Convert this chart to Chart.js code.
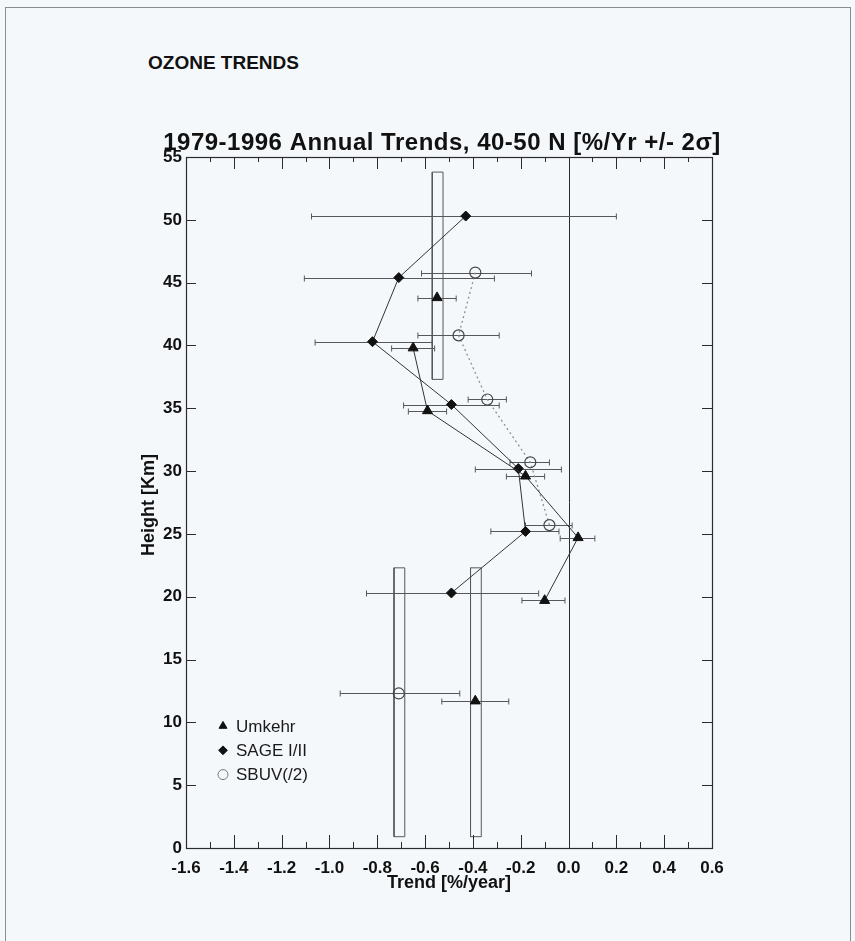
<!DOCTYPE html>
<html>
<head>
<meta charset="utf-8">
<title>Ozone Trends</title>
<script src="https://cdn.jsdelivr.net/npm/chart.js@4.4.0/dist/chart.umd.min.js"></script>
<style>
  html, body { margin: 0; padding: 0; background: #f5f8fb; }
  body { width: 855px; height: 941px; position: relative; overflow: hidden;
         font-family: "Liberation Sans", Arial, sans-serif; }
  #frame { position: absolute; left: 5px; top: 7px; width: 844px; height: 960px;
           border: 1px solid #8a8d92; }
  #heading { position: absolute; left: 148px; top: 52px; font-weight: bold;
             font-size: 19px; color: #111; }
  #wrap { position: absolute; left: 0; top: 0; width: 855px; height: 941px; }
</style>
</head>
<body>
<div id="frame"></div>
<div id="heading">OZONE TRENDS</div>
<div id="wrap"><canvas id="ozoneChart"></canvas></div>
<script>
// =============== Ozone trend profile, 40-50 N ===============

// ----------- DATA (top to bottom) -----------
const umkehrHeight = [43.8, 39.8, 34.8, 29.6, 24.7, 19.7, 11.7];
const umkehrTrend  = [-0.55, -0.65, -0.59, -0.18, 0.04, -0.10, -0.39];
const umkehrLow    = [-0.63, -0.74, -0.67, -0.26, -0.035, -0.195, -0.53];
const umkehrHigh   = [-0.47, -0.56, -0.51, -0.10, 0.11, -0.015, -0.25];
const umkehrBreaks = [0, 5];          // no line from point i to i+1

const sageHeight = [50.3, 45.4, 40.3, 35.3, 30.2, 25.2, 20.3];
const sageTrend  = [-0.43, -0.71, -0.82, -0.49, -0.21, -0.18, -0.49];
const sageLow    = [-1.075, -1.105, -1.06, -0.69, -0.39, -0.325, -0.845];
const sageHigh   = [0.20, -0.31, -0.57, -0.29, -0.03, -0.04, -0.125];
const sageBreaks = [];

const sbuvHeight = [45.8, 40.8, 35.7, 30.7, 25.7, 12.3];
const sbuvTrend  = [-0.39, -0.46, -0.34, -0.16, -0.08, -0.71];
const sbuvLow    = [-0.615, -0.63, -0.42, -0.245, -0.18, -0.955];
const sbuvHigh   = [-0.155, -0.29, -0.26, -0.08, 0.015, -0.455];
const sbuvBreaks = [4];

// open boxes
const boxLeft   = [-0.57, -0.73, -0.41];
const boxRight  = [-0.525, -0.685, -0.365];
const boxBottom = [37.3, 0.9, 0.9];
const boxTop    = [53.8, 22.3, 22.3];

const xTicks = [-1.6, -1.4, -1.2, -1.0, -0.8, -0.6, -0.4, -0.2, 0.0, 0.2, 0.4, 0.6];
const yTicks = [0, 5, 10, 15, 20, 25, 30, 35, 40, 45, 50, 55];

const INK = '#2b2b2e';
const BAR = '#55575c';
const FONT = '"Liberation Sans", Arial, sans-serif';

// ----------- DATASET HELPERS -----------
function seriesSet(label, xs, ys, breaks, style) {
  return {
    label,
    data: ys.map((h, i) => ({ x: xs[i], y: h })),
    showLine: true,
    borderColor: style.line,
    borderWidth: style.width || 1,
    borderDash: style.dash || [],
    segment: {
      borderColor: c => breaks.includes(c.p0DataIndex) ? 'rgba(0,0,0,0)' : style.line
    },
    pointStyle: style.point,
    pointRadius: style.radius,
    pointBackgroundColor: style.fill,
    pointBorderColor: style.stroke,
    pointBorderWidth: style.pointWidth || 1,
    order: style.order
  };
}

const boxSets = boxLeft.map((l, i) => ({
  label: 'box' + i,
  data: [
    { x: l, y: boxBottom[i] }, { x: boxRight[i], y: boxBottom[i] },
    { x: boxRight[i], y: boxTop[i] }, { x: l, y: boxTop[i] }, { x: l, y: boxBottom[i] }
  ],
  showLine: true,
  pointRadius: 0,
  borderColor: BAR,
  borderWidth: 1,
  order: 10
}));

const errorSets = [
  { y: umkehrHeight, lo: umkehrLow, hi: umkehrHigh },
  { y: sageHeight, lo: sageLow, hi: sageHigh },
  { y: sbuvHeight, lo: sbuvLow, hi: sbuvHigh }
];

// ----------- DRAWING PLUGIN -----------
function seg(ctx, x1, y1, x2, y2) {
  ctx.beginPath();
  ctx.moveTo(x1, y1);
  ctx.lineTo(x2, y2);
  ctx.stroke();
}

const profileExtras = {
  id: 'profileExtras',
  beforeDatasetsDraw(chart) {
    const { ctx, chartArea: a, scales: { x, y } } = chart;
    ctx.save();
    ctx.lineWidth = 1;
    ctx.strokeStyle = INK;
    const x0 = Math.round(x.getPixelForValue(0)) + 0.5;
    seg(ctx, x0, a.top, x0, a.bottom);

    ctx.strokeStyle = BAR;
    errorSets.forEach(s => {
      s.y.forEach((h, i) => {
        const yp = Math.round(y.getPixelForValue(h)) + 0.5;
        const x1 = x.getPixelForValue(s.lo[i]);
        const x2 = x.getPixelForValue(s.hi[i]);
        seg(ctx, x1, yp, x2, yp);
        seg(ctx, x1, yp - 3, x1, yp + 3);
        seg(ctx, x2, yp - 3, x2, yp + 3);
      });
    });
    ctx.restore();
  },
  afterDraw(chart) {
    const { ctx, chartArea: a, scales: { x, y } } = chart;
    ctx.save();
    ctx.strokeStyle = INK;
    ctx.lineWidth = 1.2;
    ctx.strokeRect(a.left + 0.5, a.top + 0.5, a.right - a.left, a.bottom - a.top);

    // inward ticks, minor every 0.1
    ctx.lineWidth = 1;
    for (let k = -15; k <= 5; k++) {
      const major = k % 2 === 0;
      const px = Math.round(x.getPixelForValue(k / 10)) + 0.5;
      seg(ctx, px, a.bottom, px, a.bottom - (major ? 13 : 6));
      seg(ctx, px, a.top, px, a.top + (major ? 12 : 5));
    }
    yTicks.slice(1, -1).forEach(v => {
      const py = Math.round(y.getPixelForValue(v)) + 0.5;
      seg(ctx, a.left, py, a.left + 10, py);
      seg(ctx, a.right, py, a.right - 10, py);
    });

    // titles
    ctx.fillStyle = '#111';
    ctx.textAlign = 'center';
    ctx.textBaseline = 'middle';
    ctx.font = 'bold 24px ' + FONT;
    if ('letterSpacing' in ctx) ctx.letterSpacing = '0.5px';
    ctx.fillText('1979-1996 Annual Trends, 40-50 N [%/Yr +/- 2\u03C3]', 442, 143);
    if ('letterSpacing' in ctx) ctx.letterSpacing = '0px';
    ctx.font = 'bold 18px ' + FONT;
    ctx.fillText('Trend [%/year]', (a.left + a.right) / 2, 883);
    ctx.save();
    ctx.translate(149, 505);
    ctx.rotate(-Math.PI / 2);
    ctx.fillText('Height [Km]', 0, 0);
    ctx.restore();

    // legend
    const items = [
      { text: 'Umkehr', style: 'triangle', r: 4.6, fill: '#111', stroke: '#111' },
      { text: 'SAGE I/II', style: 'rectRot', r: 4.4, fill: '#111', stroke: '#111' },
      { text: 'SBUV(/2)', style: 'circle', r: 5, fill: 'rgba(0,0,0,0)', stroke: '#777' }
    ];
    ctx.font = '17px ' + FONT;
    ctx.textAlign = 'left';
    items.forEach((it, i) => {
      const ly = 726 + i * 24.3;
      ctx.fillStyle = it.fill;
      ctx.strokeStyle = it.stroke;
      ctx.lineWidth = 1;
      Chart.helpers.drawPoint(ctx, { pointStyle: it.style, radius: it.r, borderWidth: 1, rotation: 0 }, 223, ly);
      ctx.fillStyle = '#1a1a1a';
      ctx.fillText(it.text, 236, ly + 1);
    });
    ctx.restore();
  }
};

// ----------- CHART -----------
const ctx = document.getElementById('ozoneChart');

new Chart(ctx, {
  type: 'scatter',
  data: {
    datasets: [
      seriesSet('Umkehr', umkehrTrend, umkehrHeight, umkehrBreaks,
        { line: '#333', point: 'triangle', radius: 5.8, fill: '#111', stroke: '#111', order: 1 }),
      seriesSet('SAGE I/II', sageTrend, sageHeight, sageBreaks,
        { line: '#333', point: 'rectRot', radius: 5, fill: '#111', stroke: '#111', order: 2 }),
      seriesSet('SBUV(/2)', sbuvTrend, sbuvHeight, sbuvBreaks,
        { line: '#8c8f94', dash: [2, 3], width: 1.3, point: 'circle', radius: 5.5,
          fill: 'rgba(0,0,0,0)', stroke: '#444', pointWidth: 1.2, order: 3 }),
      ...boxSets
    ]
  },
  options: {
    responsive: true,
    maintainAspectRatio: false,
    animation: false,
    layout: { padding: { left: 0, right: 143, top: 157, bottom: 43 } },
    plugins: {
      legend: { display: false },
      tooltip: { enabled: false },
      title: { display: false }
    },
    scales: {
      x: {
        type: 'linear',
        min: -1.6,
        max: 0.6,
        afterFit: s => { s.height = 50; },
        afterBuildTicks: s => { s.ticks = xTicks.map(v => ({ value: v })); },
        grid: { display: false, drawTicks: false },
        border: { display: false },
        ticks: {
          padding: 10,
          maxRotation: 0,
          color: '#111',
          font: { family: FONT, size: 17, weight: 'bold' },
          callback: v => (Math.abs(v) < 1e-9 ? 0 : v).toFixed(1)
        }
      },
      y: {
        type: 'linear',
        min: 0,
        max: 55,
        afterFit: s => { s.width = 186; },
        afterBuildTicks: s => { s.ticks = yTicks.map(v => ({ value: v })); },
        grid: { display: false, drawTicks: false },
        border: { display: false },
        ticks: {
          padding: 4,
          color: '#111',
          font: { family: FONT, size: 17, weight: 'bold' }
        }
      }
    }
  },
  plugins: [profileExtras]
});
</script>
</body>
</html>
